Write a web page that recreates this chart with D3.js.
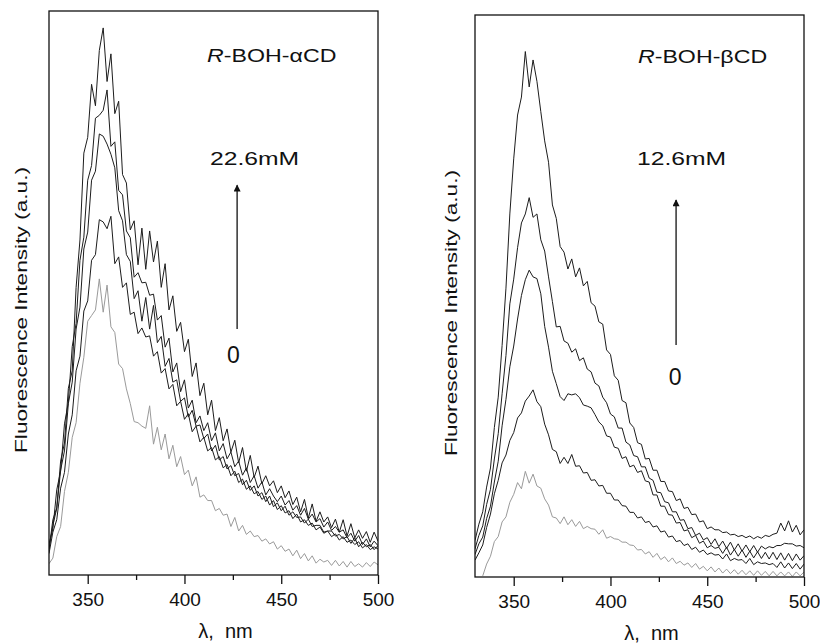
<!DOCTYPE html>
<html>
<head>
<meta charset="utf-8">
<script src="https://cdn.jsdelivr.net/npm/d3@7"></script>
<style>
  body { margin: 0; background: #fff; }
  svg { display: block; font-family: "Liberation Sans", Arial, sans-serif; }
</style>
</head>
<body>
<svg id="chart" width="820" height="644"></svg>
<script>
// Wavelength grid (nm), shared by every spectrum
const wavelengths = [
  330, 332, 334, 336, 338, 340, 342, 344, 346, 348,
  350, 352, 354, 356, 358, 360, 362, 364, 366, 368,
  370, 372, 374, 376, 378, 380, 382, 384, 386, 388,
  390, 392, 394, 396, 398, 400, 402, 404, 406, 408,
  410, 412, 414, 416, 418, 420, 422, 424, 426, 428,
  430, 432, 434, 436, 438, 440, 442, 444, 446, 448,
  450, 452, 454, 456, 458, 460, 462, 464, 466, 468,
  470, 472, 474, 476, 478, 480, 482, 484, 486, 488,
  490, 492, 494, 496, 498, 500
];

const xTicks = [350, 400, 450, 500];
const xMinorTicks = [375, 425, 475];

// R-BOH with alpha-CD (intensity, % of panel height)
const alphaZero = [
  2.0, 3.0, 6.8, 8.6, 14.8, 18.2, 24.4, 27.0, 34.0, 38.6,
  45.0, 46.0, 47.0, 52.5, 46.6, 51.4, 44.0, 43.0, 37.4, 36.6,
  33.0, 30.4, 27.2, 27.0, 26.4, 26.0, 30.0, 23.2, 26.2, 22.2,
  25.0, 20.6, 23.0, 19.2, 21.0, 17.8, 18.6, 15.8, 17.4, 13.8,
  14.2, 13.2, 13.2, 11.4, 11.8, 10.6, 10.8, 8.6, 10.2, 7.8,
  8.8, 7.2, 7.8, 6.8, 7.0, 6.0, 6.4, 5.5, 5.9, 4.6,
  5.2, 4.2, 4.6, 3.4, 4.4, 2.9, 3.8, 2.5, 3.4, 2.1,
  2.8, 2.3, 2.6, 1.7, 2.6, 1.6, 2.4, 1.4, 2.4, 1.5,
  2.0, 1.4, 2.2, 1.5, 2.3, 1.8
];
const alphaD = [
  3.8, 7.6, 9.8, 15.4, 18.2, 25.0, 28.4, 36.2, 38.8, 46.8,
  48.6, 55.8, 56.8, 63.0, 62.6, 61.4, 63.6, 55.2, 56.4, 51.0,
  51.8, 46.2, 46.6, 42.8, 43.8, 42.2, 42.4, 38.8, 39.6, 35.8,
  36.6, 33.0, 33.8, 30.0, 30.8, 27.6, 28.6, 25.4, 26.4, 23.6,
  24.4, 22.0, 22.6, 20.4, 21.0, 19.0, 19.6, 17.6, 18.4, 16.4,
  17.0, 15.2, 15.8, 14.4, 14.8, 13.4, 14.0, 12.4, 13.2, 11.6,
  12.3, 11.0, 11.4, 10.0, 10.8, 9.4, 9.8, 8.8, 9.2, 8.0,
  8.5, 7.4, 7.8, 6.8, 7.3, 6.2, 6.8, 5.8, 6.2, 5.4,
  5.9, 4.8, 5.4, 4.5, 5.0, 4.6
];
const alphaC = [
  4.6, 8.8, 11.8, 18.6, 22.0, 30.4, 34.2, 43.6, 47.5, 57.8,
  60.8, 70.0, 71.6, 78.2, 77.8, 76.4, 74.6, 72.2, 64.6, 62.8,
  56.8, 55.6, 49.0, 50.4, 45.0, 49.2, 43.6, 47.8, 41.2, 42.3,
  37.0, 38.4, 34.2, 34.6, 30.8, 31.4, 28.0, 29.2, 26.4, 26.6,
  24.2, 25.0, 22.0, 23.0, 20.4, 21.0, 18.8, 19.4, 17.6, 18.0,
  16.0, 16.8, 15.0, 15.8, 14.0, 14.6, 13.0, 14.0, 12.1, 12.8,
  11.4, 12.2, 10.6, 11.2, 10.2, 10.3, 9.2, 9.9, 8.6, 8.8,
  8.8, 7.6, 7.8, 7.8, 6.9, 7.2, 6.4, 6.8, 5.6, 6.6,
  5.0, 5.8, 5.0, 5.4, 4.5, 5.2
];
const alphaB = [
  5.5, 8.2, 15.1, 18.4, 26.8, 30.6, 40.5, 44.6, 55.8, 59.9,
  70.0, 72.6, 81.0, 81.5, 82.4, 86.0, 76.0, 76.8, 68.2, 67.4,
  61.0, 59.8, 52.8, 53.6, 51.8, 51.9, 49.6, 49.8, 45.2, 46.0,
  40.4, 42.0, 36.0, 37.6, 32.5, 34.6, 29.6, 31.0, 27.0, 28.2,
  25.6, 27.0, 23.8, 25.2, 22.0, 23.3, 20.6, 21.8, 19.2, 20.2,
  17.7, 19.0, 16.4, 17.6, 15.4, 16.5, 14.2, 15.3, 14.0, 13.0,
  14.0, 12.4, 13.2, 11.5, 12.3, 10.6, 11.8, 9.9, 10.8, 9.4,
  10.0, 8.5, 9.4, 7.9, 8.6, 7.6, 8.0, 6.6, 7.4, 6.0,
  7.0, 5.4, 6.4, 5.0, 6.0, 5.2
];
const alphaMax = [
  4.5, 9.8, 11.9, 20.2, 23.4, 33.1, 36.2, 51.0, 59.4, 74.8,
  77.6, 87.0, 83.2, 93.0, 97.0, 87.5, 92.4, 81.8, 84.0, 71.0,
  69.5, 61.2, 62.8, 55.0, 61.5, 54.2, 61.0, 55.5, 59.2, 51.0,
  55.2, 47.0, 49.5, 43.2, 44.8, 39.6, 41.8, 35.2, 37.6, 31.8,
  34.0, 28.4, 31.0, 25.6, 27.9, 23.8, 25.9, 21.8, 23.9, 19.9,
  22.6, 18.4, 21.2, 17.3, 19.3, 16.2, 17.6, 15.8, 16.7, 14.6,
  15.8, 13.7, 14.9, 12.5, 13.8, 11.2, 13.4, 10.1, 12.6, 9.5,
  11.2, 9.4, 10.3, 8.4, 9.9, 7.6, 9.8, 6.9, 9.1, 6.6,
  8.0, 6.5, 7.7, 5.8, 7.6, 6.0
];

// R-BOH with beta-CD (intensity, % of panel height)
const betaZero = [
  null, null, 0.2, 2.3, 3.7, 6.3, 7.2, 9.8, 10.7, 13.3,
  14.7, 16.8, 15.7, 18.8, 16.7, 18.3, 16.2, 15.8, 13.9, 12.8,
  10.7, 10.5, 9.5, 10.7, 9.3, 10.2, 9.0, 9.9, 8.6, 9.0,
  8.6, 8.5, 7.6, 8.4, 6.9, 7.2, 6.8, 6.7, 6.2, 6.2,
  5.7, 5.6, 4.8, 4.9, 4.1, 4.5, 3.5, 4.2, 3.1, 3.6,
  2.7, 3.4, 2.4, 2.8, 2.1, 2.5, 1.7, 2.4, 1.4, 1.9,
  1.1, 1.8, 0.9, 1.6, 0.7, 1.4, 0.6, 1.3, 0.5, 1.2,
  0.4, 1.1, 0.3, 1.1, 0.3, 1.0, 0.2, 1.0, 0.2, 0.9,
  0.2, 0.9, 0.1, 0.9, 0.2, 0.9
];
const betaH = [
  3.0, 4.3, 5.7, 8.8, 11.2, 14.8, 17.2, 20.3, 21.7, 24.3,
  25.7, 28.3, 29.2, 31.3, 32.2, 33.3, 31.2, 30.3, 27.2, 25.3,
  22.7, 22.3, 20.2, 21.3, 20.2, 21.8, 19.7, 19.8, 18.5, 18.6,
  17.2, 17.3, 16.2, 16.3, 14.9, 14.9, 13.7, 13.7, 12.7, 12.6,
  11.5, 11.5, 10.5, 10.7, 9.7, 9.9, 8.9, 9.1, 8.0, 8.2,
  7.1, 7.3, 6.3, 6.5, 5.6, 5.9, 4.9, 5.3, 4.4, 4.8,
  4.0, 4.3, 3.9, 4.0, 3.2, 4.1, 2.9, 3.3, 3.0, 3.1,
  2.4, 3.3, 2.2, 2.7, 2.4, 2.5, 2.2, 2.4, 1.7, 2.7,
  1.6, 2.5, 1.5, 2.4, 1.4, 2.3
];
const betaG = [
  4.0, 5.9, 7.1, 10.4, 12.6, 16.9, 20.6, 26.9, 31.6, 37.4,
  41.1, 45.9, 50.1, 52.9, 54.6, 53.4, 53.1, 50.4, 44.6, 40.9,
  36.6, 34.4, 32.1, 31.4, 32.6, 32.4, 32.6, 31.9, 30.6, 30.4,
  30.1, 28.9, 27.6, 26.9, 25.1, 24.9, 23.1, 22.9, 21.1, 21.4,
  19.6, 19.9, 18.6, 18.9, 17.1, 16.9, 14.6, 14.6, 12.6, 12.6,
  11.1, 11.0, 9.6, 9.7, 8.2, 8.4, 7.0, 7.4, 6.0, 6.4,
  5.2, 5.6, 5.1, 5.3, 4.2, 5.3, 3.9, 4.9, 3.7, 4.8,
  3.5, 4.6, 3.4, 4.5, 3.3, 4.4, 3.2, 4.4, 3.1, 4.3,
  3.0, 4.2, 2.9, 4.1, 3.0, 3.8
];
const betaF = [
  5.0, 7.4, 9.1, 12.9, 15.6, 21.0, 25.5, 32.6, 39.4, 48.6,
  53.0, 58.6, 63.0, 64.6, 67.5, 64.0, 64.6, 60.0, 58.0, 53.4,
  49.0, 44.5, 44.6, 42.0, 41.6, 40.0, 40.6, 38.5, 39.0, 37.0,
  36.5, 34.5, 34.0, 32.0, 31.0, 29.0, 28.5, 26.5, 26.5, 24.0,
  23.5, 21.6, 21.4, 19.6, 19.6, 17.6, 17.2, 15.1, 15.0, 13.4,
  13.2, 11.6, 11.6, 10.1, 10.2, 8.6, 8.8, 7.4, 7.8, 6.6,
  7.0, 5.8, 6.8, 5.4, 6.4, 5.1, 6.2, 4.8, 5.9, 4.6,
  5.7, 4.5, 5.6, 4.4, 5.5, 5.0, 5.4, 5.2, 5.6, 5.6,
  6.0, 5.9, 5.9, 5.5, 5.6, 5.2
];
const betaMax = [
  6.5, 9.4, 11.6, 16.0, 19.4, 26.6, 32.0, 41.2, 51.4, 64.6,
  74.4, 82.2, 85.4, 93.5, 87.2, 92.0, 88.2, 82.8, 77.6, 73.8,
  66.2, 63.8, 58.8, 57.8, 54.8, 56.6, 53.4, 55.0, 51.8, 52.6,
  48.8, 48.2, 45.4, 45.0, 40.4, 39.6, 35.8, 35.0, 31.4, 31.0,
  27.4, 26.6, 23.9, 23.6, 21.0, 21.1, 19.0, 19.0, 17.0, 17.0,
  15.3, 15.2, 13.6, 13.9, 12.2, 12.4, 11.1, 11.2, 9.8, 10.0,
  8.6, 8.9, 8.4, 8.4, 7.9, 8.0, 7.5, 7.6, 7.2, 7.4,
  7.0, 7.3, 6.8, 7.2, 6.9, 7.4, 7.2, 7.6, 7.8, 9.6,
  8.2, 10.0, 8.0, 9.2, 7.5, 8.4
];

const panels = [
  {
    left: 49, top: 11, width: 329, height: 564,
    series: [alphaZero, alphaD, alphaC, alphaB, alphaMax],
    host: 'R', guest: '-BOH-\u03b1CD', conc: '22.6mM',
    titleAt: [411.7, 91], concAt: [413.2, 72.7],
    arrow: { x: 427.2, from: 43.6, to: 69.1 }, zeroAt: [425.3, 37.6],
    ylabelX: 27
  },
  {
    left: 475, top: 15, width: 329, height: 562,
    series: [betaZero, betaH, betaG, betaF, betaMax],
    host: 'R', guest: '-BOH-\u03b2CD', conc: '12.6mM',
    titleAt: [414.2, 91.5], concAt: [413.7, 73.3],
    arrow: { x: 433.9, from: 41.3, to: 67.1 }, zeroAt: [433.4, 34.2],
    ylabelX: 457
  }
];

const svg = d3.select('#chart');

svg.append('defs').append('marker')
  .attr('id', 'arrowhead')
  .attr('viewBox', '0 0 10 10')
  .attr('refX', 9).attr('refY', 5)
  .attr('markerWidth', 11).attr('markerHeight', 7)
  .attr('markerUnits', 'userSpaceOnUse')
  .attr('orient', 'auto')
  .append('path')
  .attr('d', 'M0,0 L10,5 L0,10 Z')
  .attr('fill', '#111');

panels.forEach((p, pi) => {
  const x = d3.scaleLinear().domain([330, 500]).range([0, p.width]);
  const y = d3.scaleLinear().domain([0, 100]).range([p.height, 0]);

  const g = svg.append('g').attr('transform', `translate(${p.left},${p.top})`);

  g.append('clipPath').attr('id', `clip${pi}`)
    .append('rect').attr('width', p.width).attr('height', p.height);

  // spectra, gray = no cyclodextrin
  const line = d3.line()
    .defined(d => d[1] != null)
    .x(d => x(d[0]))
    .y(d => y(d[1]));

  const plot = g.append('g').attr('clip-path', `url(#clip${pi})`);
  p.series.forEach((vals, si) => {
    plot.append('path')
      .datum(wavelengths.map((w, i) => [w, vals[i]]))
      .attr('d', line)
      .attr('fill', 'none')
      .attr('stroke', si === 0 ? '#9a9a9a' : '#1c1c1c')
      .attr('stroke-width', 1)
      .attr('stroke-linejoin', 'round');
  });

  // frame
  g.append('rect')
    .attr('width', p.width).attr('height', p.height)
    .attr('fill', 'none').attr('stroke', '#111').attr('stroke-width', 1.3);

  // x axis: major + minor ticks
  const ax = g.append('g').attr('transform', `translate(0,${p.height})`)
    .call(d3.axisBottom(x).tickValues(xTicks).tickSize(9).tickPadding(9).tickFormat(d3.format('d')));
  ax.select('.domain').remove();
  ax.selectAll('.tick line').attr('stroke', '#111').attr('stroke-width', 1.3);
  ax.selectAll('.tick text').attr('font-size', 19).attr('fill', '#111')
    .attr('font-family', '"Liberation Sans", Arial, sans-serif');

  const minor = g.append('g').attr('transform', `translate(0,${p.height})`)
    .call(d3.axisBottom(x).tickValues(xMinorTicks).tickSize(5).tickFormat(''));
  minor.select('.domain').remove();
  minor.selectAll('.tick line').attr('stroke', '#111').attr('stroke-width', 1.3);

  // axis titles
  g.append('text')
    .attr('x', p.width / 2 + 12).attr('y', p.height + 63)
    .attr('text-anchor', 'middle')
    .attr('font-size', 20).attr('fill', '#111')
    .text('\u03bb,\u00a0\u00a0nm');

  g.append('text')
    .attr('transform', `translate(${p.ylabelX - p.left},${p.height / 2 + 17}) rotate(-90)`)
    .attr('text-anchor', 'middle')
    .attr('font-size', 16).attr('fill', '#111')
    .attr('textLength', 286).attr('lengthAdjust', 'spacingAndGlyphs')
    .text('Fluorescence Intensity (a.u.)');

  // annotations
  const title = g.append('text')
    .attr('transform', `translate(${x(p.titleAt[0])},${y(p.titleAt[1])}) scale(1.22,1)`)
    .attr('font-size', 19).attr('fill', '#111');
  title.append('tspan').attr('font-style', 'italic').text(p.host);
  title.append('tspan').text(p.guest);

  g.append('text')
    .attr('transform', `translate(${x(p.concAt[0])},${y(p.concAt[1])}) scale(1.3,1)`)
    .attr('font-size', 19).attr('fill', '#111')
    .text(p.conc);

  g.append('line')
    .attr('x1', x(p.arrow.x)).attr('x2', x(p.arrow.x))
    .attr('y1', y(p.arrow.from)).attr('y2', y(p.arrow.to))
    .attr('stroke', '#111').attr('stroke-width', 1.3)
    .attr('marker-end', 'url(#arrowhead)');

  g.append('text')
    .attr('x', x(p.zeroAt[0])).attr('y', y(p.zeroAt[1]))
    .attr('text-anchor', 'middle')
    .attr('font-size', 23).attr('fill', '#111')
    .text('0');
});
</script>
</body>
</html>
